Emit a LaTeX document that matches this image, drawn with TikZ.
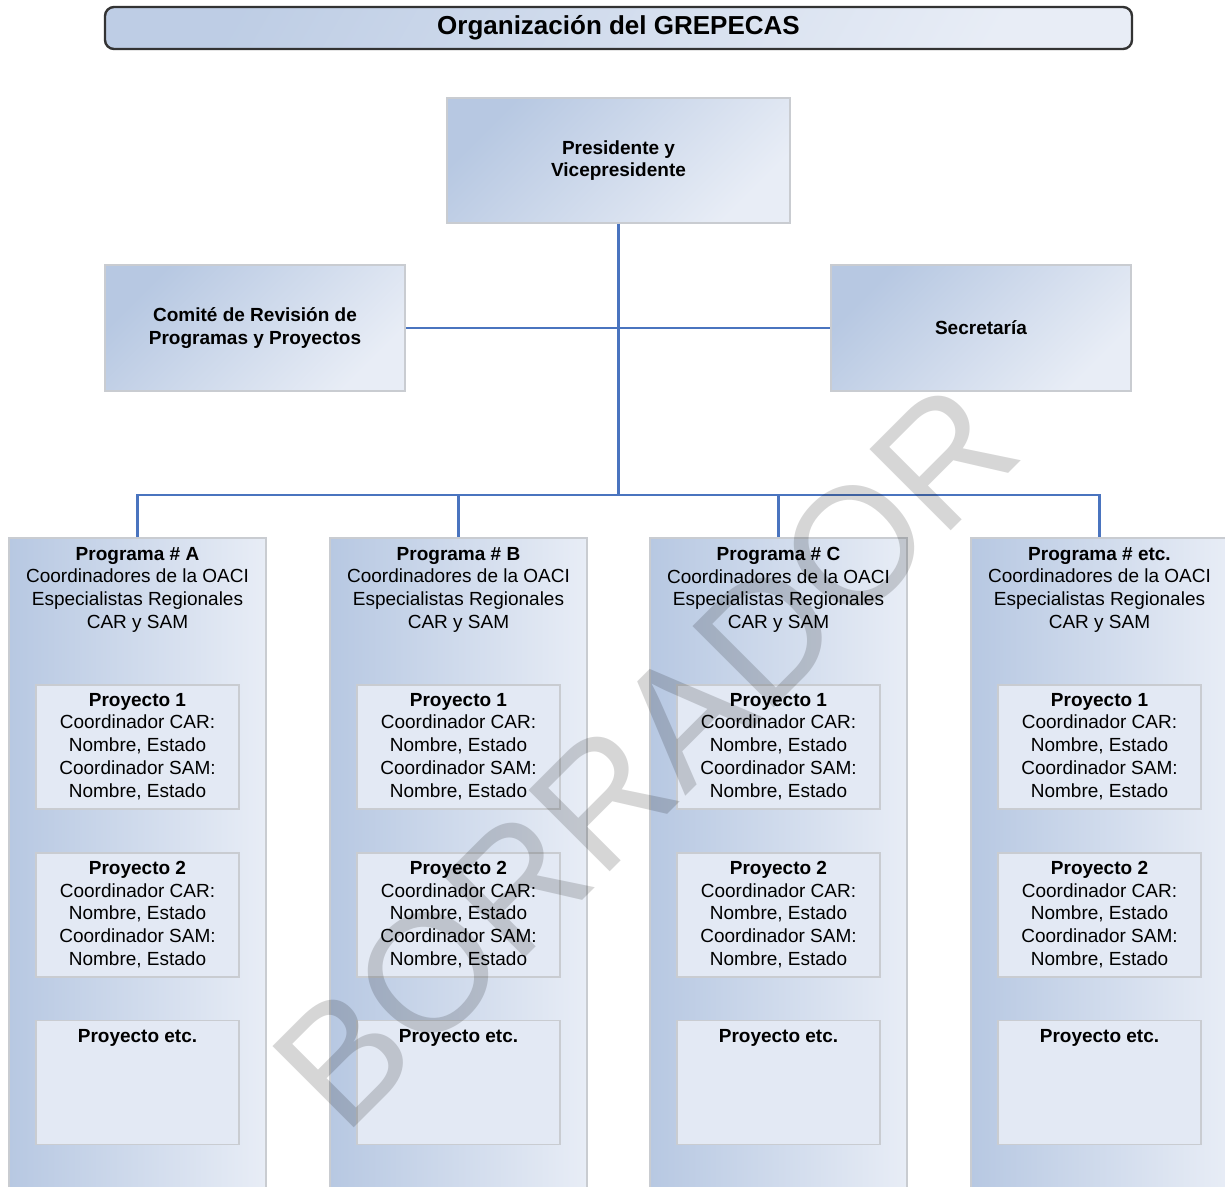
\documentclass[tikz,border=0pt]{standalone}
\usepackage{fontspec}
\setmainfont{Liberation Sans}
\definecolor{linec}{HTML}{4A74BF}
\definecolor{boxdark}{HTML}{B7C8E2}
\definecolor{boxlight}{HTML}{E8EDF6}
\definecolor{projfill}{HTML}{E3E9F4}
\definecolor{bordc}{HTML}{C9CCD1}
\definecolor{titleb}{HTML}{333333}
\definecolor{wmgray}{HTML}{D6D6D6}
\begin{document}
\begin{tikzpicture}[x=1pt,y=-1pt,
  txt/.style={font=\fontsize{19}{22.7}\selectfont, align=center, inner sep=0pt},
  topbox/.style={draw=bordc, line width=1.5pt, top color=boxdark, bottom color=boxlight,
    shading angle=45, minimum width=#1, minimum height=126pt, inner sep=0pt,
    align=center, font=\bfseries\fontsize{19}{22.7}\selectfont},
  progcol/.style={draw=bordc, line width=1.5pt, left color=boxdark, right color=boxlight,
    minimum width=257pt, minimum height=657pt, inner sep=0pt},
  projbox/.style={draw=bordc, line width=1.5pt, fill=projfill,
    minimum width=203pt, minimum height=124pt, inner sep=0pt},
  conn/.style={draw=linec, line width=2.4pt},
  titlebox/.style={draw=titleb, line width=2.4pt, rounded corners=9pt,
    top color=boxdark!90, bottom color=boxlight, shading angle=60,
    minimum width=1027pt, minimum height=42pt, inner sep=0pt,
    font=\bfseries\fontsize{26}{30}\selectfont}
]
\useasboundingbox (0,0) rectangle (1225,1186);
\clip (0,0) rectangle (1225,1186);

% title
\node[titlebox] (title) at (618.5,28) {Organización del GREPECAS};

% top boxes
\node[topbox=343pt, minimum height=125pt] (pres) at (618.5,160.5) {Presidente y\\Vicepresidente};
\node[topbox=300pt] (comite) at (255,328) {Comité de Revisión de\\Programas y Proyectos};
\node[topbox=300pt] (secr) at (981,328) {Secretaría};

% program columns
\foreach \n/\cx/\lab in {A/137.5/A, B/458.5/B, C/778.5/C, D/1099.5/etc.}{
  \node[progcol] (prog\n) at (\cx,866.5) {};
  \node[txt, anchor=north] (prog\n t) at (\cx,547)
    {\textbf{Programa \# \lab}\\Coordinadores de la OACI\\Especialistas Regionales\\CAR y SAM};
  \node[projbox] (proj\n a) at (\cx,747) {};
  \node[txt, anchor=north] (proj\n at) at (\cx,693)
    {\textbf{Proyecto 1}\\Coordinador CAR:\\Nombre, Estado\\Coordinador SAM:\\Nombre, Estado};
  \node[projbox] (proj\n b) at (\cx,915) {};
  \node[txt, anchor=north] (proj\n bt) at (\cx,861)
    {\textbf{Proyecto 2}\\Coordinador CAR:\\Nombre, Estado\\Coordinador SAM:\\Nombre, Estado};
  \node[projbox] (proj\n c) at (\cx,1082.5) {};
  \node[txt, anchor=north] (proj\n ct) at (\cx,1029) {\textbf{Proyecto etc.}};
}

% connectors
\coordinate (j2) at (618.5,495);
\draw[conn] (pres.south) -- (j2);
\draw[conn] (comite.east) -- (secr.west);
\draw[conn] (progA.north) |- (j2) -| (progD.north);
\draw[conn] (j2) -| (progB.north);
\draw[conn] (j2) -| (progC.north);

% watermark
\begin{scope}[blend mode=multiply]
\node[text=wmgray, rotate=45, inner sep=0pt,
  font=\fontsize{167}{167}\selectfont] (wm) at (645,756) {BORRADOR};
\end{scope}
\end{tikzpicture}
\end{document}
